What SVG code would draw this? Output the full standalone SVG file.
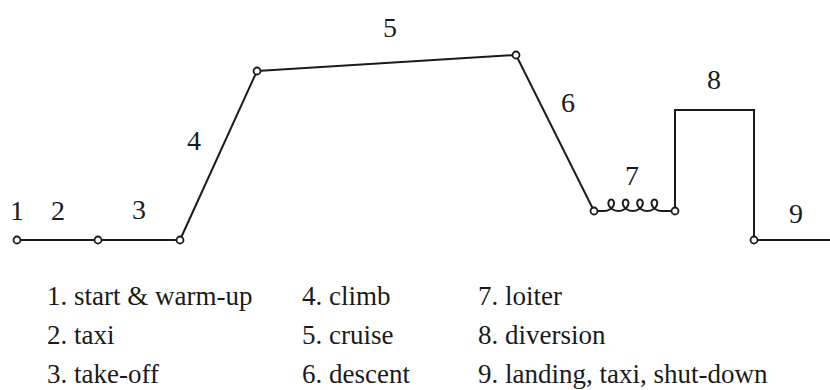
<svg xmlns="http://www.w3.org/2000/svg" width="830" height="390" viewBox="0 0 830 390">
<style>
.ln{fill:none;stroke:#1a1a1a;stroke-width:2;stroke-linejoin:miter;stroke-linecap:butt}
.nd{fill:#fff;stroke:#1a1a1a;stroke-width:1.8}
.lb{font-family:"Liberation Serif","Times New Roman",serif;font-size:28px;fill:#1a1a1a;text-anchor:middle}
.lg{font-family:"Liberation Serif","Times New Roman",serif;font-size:27px;fill:#1a1a1a}
</style>
<rect width="830" height="390" fill="#fff"/>
<g id="connectors">
<path class="ln" d="M17,240 H180"/>
<path class="ln" d="M180,240 L257,71"/>
<path class="ln" d="M257,71 L516,55"/>
<path class="ln" d="M516,55 L594,211"/>
<path class="ln" d="M594,211 C599,211 601,211 604,211 c4.4,0 8.5,-2.75 9.7,-5.8 c1.2,-3 -0.5,-5.8 -2.5,-5.8 c-2,0 -3.7,2.8 -2.5,5.8 c1.2,3.05 5.3,5.8 9.7,5.8 c4.4,0 8.5,-2.75 9.7,-5.8 c1.2,-3 -0.5,-5.8 -2.5,-5.8 c-2,0 -3.7,2.8 -2.5,5.8 c1.2,3.05 5.3,5.8 9.7,5.8 c4.4,0 8.5,-2.75 9.7,-5.8 c1.2,-3 -0.5,-5.8 -2.5,-5.8 c-2,0 -3.7,2.8 -2.5,5.8 c1.2,3.05 5.3,5.8 9.7,5.8 c4.4,0 8.5,-2.75 9.7,-5.8 c1.2,-3 -0.5,-5.8 -2.5,-5.8 c-2,0 -3.7,2.8 -2.5,5.8 c1.2,3.05 5.3,5.8 9.7,5.8 C667,211 671,211 675,211"/>
<path class="ln" d="M675,211 V110 H754 V240 H830"/>
</g>
<g id="n1"><circle class="nd" cx="17" cy="240" r="3.5"/><text class="lb" x="17" y="220">1</text></g>
<g id="n2"><circle class="nd" cx="98" cy="240" r="3.5"/><text class="lb" x="58" y="220">2</text></g>
<g id="n3"><circle class="nd" cx="180" cy="240" r="3.5"/><text class="lb" x="139" y="219">3</text></g>
<g id="n4"><circle class="nd" cx="257" cy="71" r="3.5"/><text class="lb" x="194" y="150">4</text></g>
<g id="n5"><circle class="nd" cx="516" cy="55" r="3.5"/><text class="lb" x="390" y="37">5</text></g>
<g id="n6"><circle class="nd" cx="594" cy="211" r="3.5"/><text class="lb" x="568" y="112">6</text></g>
<g id="n7"><circle class="nd" cx="675" cy="211" r="3.5"/><text class="lb" x="632" y="185">7</text></g>
<g id="n8"><text class="lb" x="714" y="89">8</text></g>
<g id="n9"><circle class="nd" cx="754" cy="240" r="3.5"/><text class="lb" x="796" y="223">9</text></g>
<g id="legend">
<text class="lg" x="47" y="305">1. start &amp; warm-up</text>
<text class="lg" x="47" y="344">2. taxi</text>
<text class="lg" x="47" y="383">3. take-off</text>
<text class="lg" x="302" y="305">4. climb</text>
<text class="lg" x="302" y="344">5. cruise</text>
<text class="lg" x="302" y="383">6. descent</text>
<text class="lg" x="478" y="305">7. loiter</text>
<text class="lg" x="478" y="344">8. diversion</text>
<text class="lg" x="478" y="383">9. landing, taxi, shut-down</text>
</g>
</svg>
